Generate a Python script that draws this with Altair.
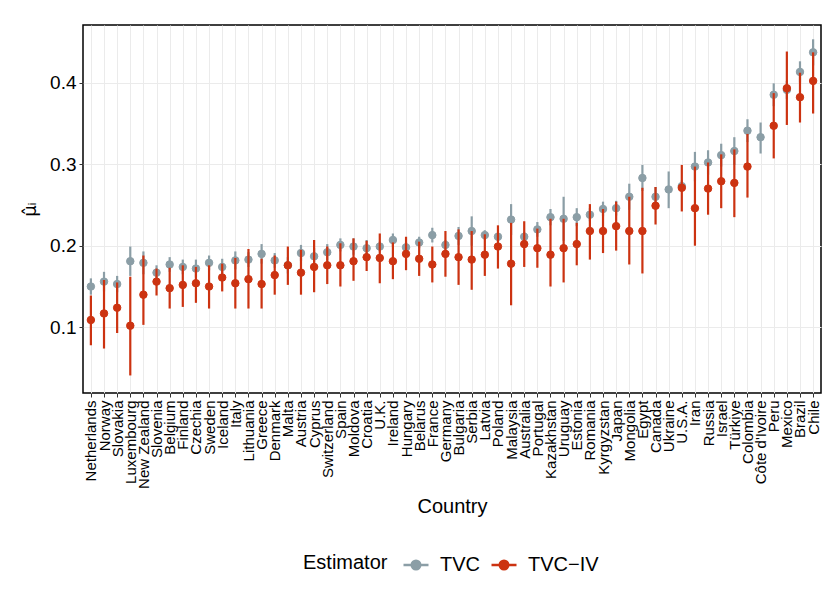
import altair as alt
import pandas as pd

countries = ["Netherlands", "Norway", "Slovakia", "Luxembourg", "New Zealand", "Slovenia",
             "Belgium", "Finland", "Czechia", "Sweden", "Iceland", "Italy", "Lithuania",
             "Greece", "Denmark", "Malta", "Austria", "Cyprus", "Switzerland", "Spain",
             "Moldova", "Croatia", "U.K.", "Ireland", "Hungary", "Belarus", "France",
             "Germany", "Bulgaria", "Serbia", "Latvia", "Poland", "Malaysia", "Australia",
             "Portugal", "Kazakhstan", "Uruguay", "Estonia", "Romania", "Kyrgyzstan",
             "Japan", "Mongolia", "Egypt", "Canada", "Ukraine", "U.S.A.", "Iran", "Russia",
             "Israel", "Türkiye", "Colombia", "Côte d'Ivoire", "Peru", "Mexico", "Brazil",
             "Chile"]

tvc = [0.150, 0.156, 0.153, 0.181, 0.179, 0.167, 0.177, 0.174, 0.172, 0.179, 0.174, 0.182,
       0.183, 0.190, 0.182, 0.176, 0.191, 0.187, 0.192, 0.201, 0.199, 0.197, 0.199, 0.207,
       0.198, 0.204, 0.213, 0.201, 0.212, 0.218, 0.213, 0.211, 0.232, 0.211, 0.220, 0.235,
       0.233, 0.235, 0.238, 0.245, 0.246, 0.260, 0.283, 0.260, 0.269, 0.273, 0.297, 0.302,
       0.311, 0.316, 0.341, 0.333, 0.385, 0.391, 0.413, 0.437]
tvc_lo = [0.140, 0.144, 0.143, 0.163, 0.165, 0.158, 0.168, 0.165, 0.161, 0.170, 0.164, 0.171,
          0.174, 0.178, 0.173, 0.166, 0.181, 0.177, 0.182, 0.193, 0.189, 0.187, 0.193, 0.199,
          0.192, 0.197, 0.204, 0.195, 0.201, 0.200, 0.207, 0.205, 0.213, 0.205, 0.211, 0.225,
          0.206, 0.224, 0.230, 0.236, 0.237, 0.244, 0.267, 0.248, 0.246, 0.266, 0.279, 0.287,
          0.297, 0.299, 0.327, 0.313, 0.371, 0.380, 0.400, 0.421]
tvc_hi = [0.160, 0.168, 0.163, 0.199, 0.193, 0.176, 0.186, 0.183, 0.183, 0.188, 0.184, 0.193,
          0.192, 0.202, 0.191, 0.186, 0.201, 0.197, 0.202, 0.209, 0.209, 0.207, 0.205, 0.215,
          0.204, 0.211, 0.222, 0.207, 0.223, 0.236, 0.219, 0.217, 0.251, 0.217, 0.229, 0.245,
          0.260, 0.246, 0.246, 0.254, 0.255, 0.276, 0.299, 0.272, 0.291, 0.280, 0.315, 0.317,
          0.325, 0.333, 0.355, 0.351, 0.399, 0.402, 0.426, 0.453]

iv = [0.109, 0.117, 0.124, 0.102, 0.140, 0.156, 0.148, 0.152, 0.154, 0.150, 0.161, 0.154,
      0.159, 0.153, 0.164, 0.176, 0.167, 0.174, 0.176, 0.176, 0.181, 0.186, 0.185, 0.181,
      0.190, 0.184, 0.177, 0.190, 0.186, 0.183, 0.189, 0.199, 0.178, 0.202, 0.197, 0.189,
      0.197, 0.202, 0.218, 0.218, 0.224, 0.218, 0.218, 0.249, None, 0.271, 0.246, 0.270,
      0.279, 0.277, 0.297, None, 0.347, 0.393, 0.382, 0.402]
iv_lo = [0.078, 0.074, 0.093, 0.041, 0.103, 0.139, 0.123, 0.125, 0.130, 0.123, 0.144, 0.123,
         0.123, 0.123, 0.140, 0.152, 0.140, 0.143, 0.153, 0.150, 0.157, 0.169, 0.154, 0.159,
         0.170, 0.163, 0.155, 0.162, 0.152, 0.146, 0.163, 0.172, 0.127, 0.174, 0.173, 0.150,
         0.155, 0.176, 0.183, 0.191, 0.194, 0.177, 0.166, 0.226, None, 0.242, 0.200, 0.238,
         0.246, 0.235, 0.259, None, 0.307, 0.348, 0.351, 0.362]
iv_hi = [0.139, 0.158, 0.155, 0.162, 0.188, 0.172, 0.173, 0.176, 0.174, 0.176, 0.178, 0.185,
         0.196, 0.184, 0.188, 0.199, 0.195, 0.207, 0.199, 0.203, 0.209, 0.206, 0.215, 0.204,
         0.211, 0.205, 0.199, 0.218, 0.220, 0.218, 0.214, 0.225, 0.228, 0.230, 0.221, 0.233,
         0.233, 0.228, 0.251, 0.245, 0.254, 0.260, 0.271, 0.272, None, 0.299, 0.297, 0.302,
         0.312, 0.318, 0.337, None, 0.387, 0.438, 0.412, 0.437]

estimators = ["TVC", "TVC\u2212IV"]
colors = ["#8B9EA6", "#CC3311"]
y_ticks = [0.1, 0.2, 0.3, 0.4]

rows = []
for i, c in enumerate(countries):
    rows.append({"Country": c, "Estimator": estimators[0], "est": tvc[i], "lo": tvc_lo[i], "hi": tvc_hi[i]})
    if iv[i] is not None:
        rows.append({"Country": c, "Estimator": estimators[1], "est": iv[i], "lo": iv_lo[i], "hi": iv_hi[i]})
df = pd.DataFrame(rows)

FONT = "Liberation Sans"

x_enc = alt.X("Country:N", sort=countries,
              scale=alt.Scale(type="point", padding=0.6),
              axis=alt.Axis(title="Country", labelAngle=270, labelFontSize=15,
                            labelColor="black", titleFontSize=20, titleFontWeight="normal",
                            titleColor="black", titlePadding=8, grid=True,
                            gridColor="#EBEBEB", gridWidth=1, tickColor="#333333",
                            tickSize=4, labelPadding=3, domain=False))
yscale = alt.Scale(domain=[0.0195, 0.4705], nice=False, zero=False)
y_axis = alt.Axis(title="\u03bc\u0302\u1d62", values=y_ticks, format=".1f", labelFontSize=19,
                  labelColor="black", titleFont="DejaVu Sans", titleFontSize=18,
                  titleFontWeight="normal", titleColor="black", titlePadding=10, grid=True,
                  gridColor="#EBEBEB", gridWidth=1, tickColor="#333333", tickSize=4,
                  labelPadding=3, domain=False)

color_scale = alt.Scale(domain=estimators, range=colors)
legend_path = "M-1,0L1,0M0.34,0A0.34,0.34,0,1,1,-0.34,0A0.34,0.34,0,1,1,0.34,0Z"
legend = alt.Legend(title="Estimator", orient="none", legendX=220, legendY=526,
                    direction="horizontal", titleOrient="left", titleFontSize=20,
                    titleFontWeight="normal", titleColor="black", labelFontSize=20,
                    labelColor="black", symbolType=legend_path, symbolSize=625,
                    symbolStrokeWidth=2.5, labelOffset=10, columnPadding=6,
                    titlePadding=14, titleBaseline="middle")

layers = []
for k, e in enumerate(estimators):
    sub = df[df["Estimator"] == e]
    base = alt.Chart(sub)
    rule = base.mark_rule(strokeWidth=2.2, color=colors[k]).encode(
        x=x_enc,
        y=alt.Y("lo:Q", scale=yscale, axis=y_axis),
        y2="hi:Q",
    )
    pt = base.mark_point(filled=True, opacity=1, size=56, strokeWidth=1).encode(
        x=x_enc,
        y=alt.Y("est:Q", scale=yscale, axis=y_axis),
        fill=alt.Fill("Estimator:N", scale=color_scale, legend=legend),
        stroke=alt.Stroke("Estimator:N", scale=color_scale, legend=legend),
    )
    layers += [rule, pt]

chart = alt.layer(*layers).properties(
    width=738, height=368,
    autosize=alt.AutoSizeParams(type="none"),
    padding={"left": 75, "top": 17, "right": 1, "bottom": 200},
).configure(font=FONT).configure_view(stroke="black", strokeWidth=1.5)

chart.save("out.html", embed_options={"renderer": "svg", "actions": False})
